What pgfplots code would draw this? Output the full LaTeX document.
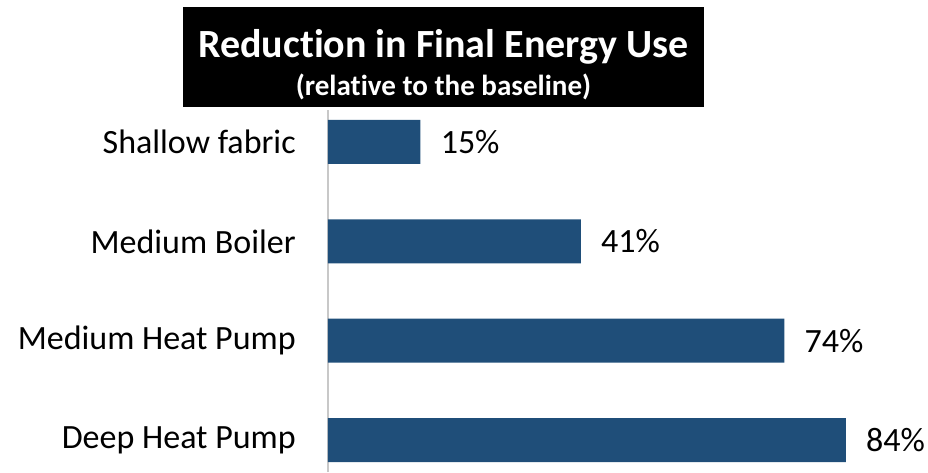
\documentclass[border=0pt]{standalone}
\usepackage{pgfplots}
\pgfplotsset{compat=1.18}
\usepackage{fontspec}
\setmainfont{Carlito}[Ligatures=NoCommon]
\definecolor{barblue}{RGB}{31,78,121}
\definecolor{axgray}{RGB}{200,200,200}
\begin{document}
\begin{tikzpicture}
\path[use as bounding box] (0,0) rectangle (696pt,354pt);
\fill[black] (137.25pt,273.75pt) rectangle (528pt,348.75pt);
\node[text=white,font=\fontsize{30}{36}\selectfont\bfseries,inner sep=0pt] at (332.6pt,318.75pt) {Reduction in Final Energy Use};
\node[text=white,font=\fontsize{21.8}{26}\selectfont\bfseries,inner sep=0pt] at (332.6pt,288.75pt) {(relative to the baseline)};
\begin{axis}[
  at={(246pt,0pt)}, anchor=south west,
  scale only axis,
  width=450pt, height=271.5pt,
  xmin=0, xmax=97.3,
  ymin=-0.322, ymax=3.322,
  xbar, bar width=33pt,
  axis x line=none,
  axis y line*=left,
  y axis line style={draw=none},
  ytick={0,1,2,3},
  yticklabels={Deep Heat Pump, Medium Heat Pump, Medium Boiler, Shallow fabric},
  major tick length=0pt,
  yticklabel style={inner sep=0pt, xshift=-24pt, font=\fontsize{25.5}{30}\selectfont},
  /pgf/number format/assume math mode=true,
  nodes near coords={\pgfmathprintnumber{\pgfplotspointmeta}\%},
  nodes near coords style={anchor=west, inner sep=0pt, xshift=15pt, font=\fontsize{25.5}{30}\selectfont, text=black},
  clip=false,
]
\draw[axgray, line width=2pt] (axis cs:0,-0.322) -- (axis cs:0,3.322);
\addplot[fill=barblue, draw=none, bar shift=0pt] coordinates {(84,0) (74,1) (41,2) (15,3)};
\end{axis}
\end{tikzpicture}
\end{document}
